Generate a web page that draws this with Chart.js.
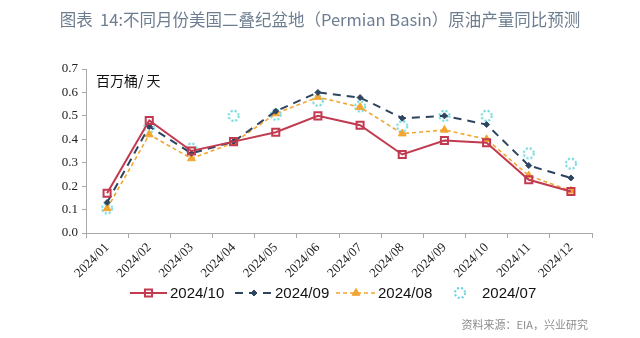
<!DOCTYPE html>
<html>
<head>
<meta charset="utf-8">
<script src="https://cdn.jsdelivr.net/npm/chart.js@4.4.1/dist/chart.umd.min.js"></script>
<style>
  html, body { margin: 0; padding: 0; background: #fff; }
  #wrap { width: 640px; height: 338px; position: relative; }
</style>
</head>
<body>
<div id="wrap"><canvas id="permian" width="640" height="338"></canvas></div>
<script>
const months = ['2024/01', '2024/02', '2024/03', '2024/04', '2024/05', '2024/06',
                '2024/07', '2024/08', '2024/09', '2024/10', '2024/11', '2024/12'];
const yTicks = [0, 0.1, 0.2, 0.3, 0.4, 0.5, 0.6, 0.7];

// forecast vintages, million barrels/day yoy change
const oct2024 = [0.17, 0.48, 0.35, 0.39, 0.43, 0.50, 0.46, 0.335, 0.395, 0.385, 0.227, 0.177];
const sep2024 = [0.13, 0.455, 0.34, 0.39, 0.52, 0.60, 0.578, 0.49, 0.50, 0.463, 0.288, 0.235];
const aug2024 = [0.105, 0.42, 0.318, 0.385, 0.51, 0.58, 0.537, 0.424, 0.44, 0.40, 0.245, 0.18];
const jul2024 = [0.105, 0.45, 0.36, 0.50, 0.505, 0.565, 0.54, 0.455, 0.50, 0.50, 0.34, 0.296];

const seriesNames = ['2024/10', '2024/09', '2024/08', '2024/07'];

const titleText = '图表  14:不同月份美国二叠纪盆地（Permian Basin）原油产量同比预测';
const unitText = '百万桶/ 天';
const sourceText = '资料来源：EIA，兴业研究';

const RED = '#c23a50';
const NAVY = '#2e4560';
const ORANGE = '#f2a531';
const CYAN = '#62d3da';

// dotted circle marker for the 2024/07 points
function dottedCircle (r) {
    const c = document.createElement('canvas');
    c.width = c.height = r * 2 + 4;
    const g = c.getContext('2d');
    g.strokeStyle = CYAN;
    g.lineWidth = 2;
    g.setLineDash([2, 2]);
    g.beginPath();
    g.arc(r + 2, r + 2, r, 0, Math.PI * 2);
    g.stroke();
    return c;
}
const cyanMarker = dottedCircle(5);

// legend layout: line sample start/width, label x
const legendItems = [
    { x: 130, w: 37, tx: 170 },
    { x: 235, w: 38, tx: 275 },
    { x: 336, w: 40, tx: 378 },
    { x: 453, w: 14, tx: 482 }
];

const extras = {
    id: 'extras',
    afterDraw(chart) {
        const c = chart.ctx;
        const dsList = chart.data.datasets;
        c.save();
        c.textBaseline = 'middle';
        c.fillStyle = '#6d7d90';
        c.font = '16.5px "Noto Sans CJK SC", "Noto Sans", sans-serif';
        c.textAlign = 'center';
        c.fillText(titleText, 320, 20);

        c.fillStyle = '#111';
        c.textAlign = 'left';
        c.font = '14px "Noto Sans CJK SC", sans-serif';
        c.fillText(unitText, 96, 81);

        c.fillStyle = '#8c8c8c';
        c.textAlign = 'right';
        c.font = '11px "Noto Sans CJK SC", sans-serif';
        c.fillText(sourceText, 588, 325);

        const y = 293;
        c.font = '15px "Liberation Sans", Arial, sans-serif';
        legendItems.forEach((it, i) => {
            const ds = dsList[i];
            if (ds.showLine !== false) {
                c.strokeStyle = ds.borderColor;
                c.lineWidth = ds.borderWidth;
                c.setLineDash(ds.borderDash || []);
                c.beginPath();
                c.moveTo(it.x, y);
                c.lineTo(it.x + it.w, y);
                c.stroke();
                c.setLineDash([]);
            }
            c.strokeStyle = ds.pointBorderColor || ds.borderColor;
            c.fillStyle = ds.pointBackgroundColor || 'rgba(0,0,0,0)';
            c.lineWidth = ds.pointBorderWidth || 1;
            Chart.helpers.drawPoint(c, {
                pointStyle: ds.pointStyle,
                radius: ds.pointRadius,
                borderWidth: ds.pointBorderWidth,
                rotation: 0
            }, it.x + it.w / 2, y);
            c.fillStyle = '#111';
            c.textAlign = 'left';
            c.fillText(seriesNames[i], it.tx, y + 0.5);
        });
        c.restore();
    }
};

const ctx = document.getElementById('permian').getContext('2d');

const chart = new Chart(ctx, {
    type: 'line',
    data: {
        labels: months,
        datasets: [
            {
                label: seriesNames[0],
                data: oct2024,
                borderColor: RED,
                backgroundColor: 'rgba(255,255,255,0)',
                borderWidth: 2,
                pointStyle: 'rect',
                pointRadius: 5,
                pointBorderWidth: 2,
                pointBorderColor: RED,
                pointBackgroundColor: 'rgba(255,255,255,0)',
                tension: 0
            },
            {
                label: seriesNames[1],
                data: sep2024,
                borderColor: NAVY,
                borderWidth: 2,
                borderDash: [8, 6],
                pointStyle: 'rectRot',
                pointRadius: 3,
                pointBorderWidth: 1,
                pointBorderColor: NAVY,
                pointBackgroundColor: NAVY,
                tension: 0
            },
            {
                label: seriesNames[2],
                data: aug2024,
                borderColor: ORANGE,
                borderWidth: 1.6,
                borderDash: [4, 3],
                pointStyle: 'triangle',
                pointRadius: 4.5,
                pointBorderWidth: 1,
                pointBorderColor: ORANGE,
                pointBackgroundColor: ORANGE,
                tension: 0
            },
            {
                label: seriesNames[3],
                data: jul2024,
                showLine: false,
                borderColor: CYAN,
                pointStyle: cyanMarker,
                pointRadius: 6,
                pointBorderWidth: 0
            }
        ]
    },
    options: {
        responsive: false,
        animation: false,
        layout: { padding: { top: 69, left: 0, right: 48, bottom: 60 } },
        plugins: {
            legend: { display: false },
            title: { display: false },
            tooltip: { enabled: false }
        },
        scales: {
            x: {
                offset: true,
                grid: {
                    offset: true,
                    drawOnChartArea: false,
                    drawTicks: true,
                    tickLength: 5,
                    color: '#a8a8a8'
                },
                border: { color: '#a8a8a8', width: 1 },
                ticks: {
                    minRotation: 45,
                    maxRotation: 45,
                    padding: 2,
                    color: '#222',
                    font: { family: '"Liberation Serif", "DejaVu Serif", serif', size: 13 }
                },
                afterFit: s => { s.height = 45; }
            },
            y: {
                min: 0,
                max: 0.7,
                afterBuildTicks: s => { s.ticks = yTicks.map(v => ({ value: v })); },
                grid: {
                    drawOnChartArea: false,
                    drawTicks: true,
                    tickLength: 4,
                    color: '#a8a8a8'
                },
                border: { color: '#a8a8a8', width: 1 },
                ticks: {
                    padding: 4,
                    color: '#222',
                    font: { family: '"Liberation Serif", "DejaVu Serif", serif', size: 13 },
                    callback: v => Number(v).toFixed(1)
                },
                afterFit: s => { s.width = 86; }
            }
        }
    },
    plugins: [extras]
});
</script>
</body>
</html>
